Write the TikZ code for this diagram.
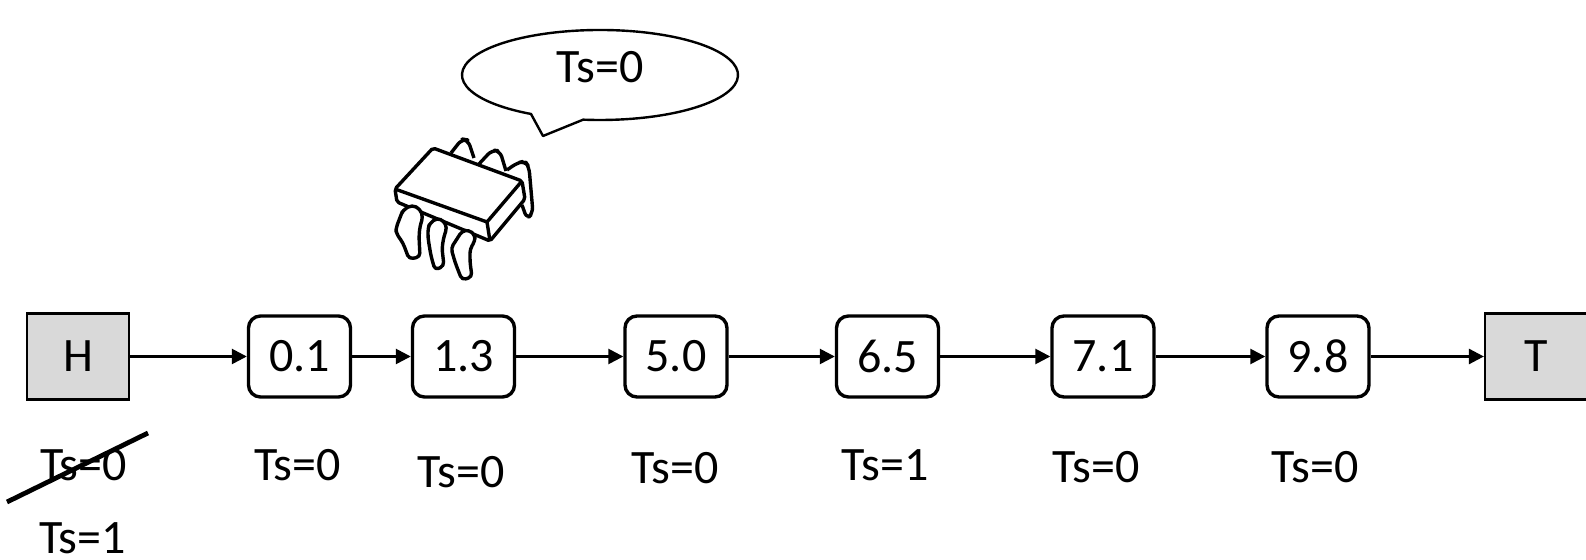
\documentclass[tikz,border=0pt]{standalone}
\usepackage{fontspec}
\setmainfont{Carlito}
\usetikzlibrary{arrows.meta,calc}
\definecolor{endgray}{HTML}{D9D9D9}
\begin{document}
\begin{tikzpicture}[x=0.5pt,y=-0.5pt,
  every node/.style={font=\fontsize{24}{28}\selectfont, inner sep=0pt},
  endbox/.style={draw, line width=1.1pt, fill=endgray, minimum width=51pt, minimum height=43pt},
  valbox/.style={draw, line width=1.7pt, rounded corners=6pt, minimum width=51pt, minimum height=40.5pt},
  link/.style={line width=1.3pt, -{Triangle[length=7.5pt,width=7.5pt]}},
  chipline/.style={draw, fill=white, line width=1.7pt, line join=round, rounded corners=2pt},
]
\useasboundingbox (0,0) rectangle (1586,560);

% list nodes
\node[endbox] (H) at (78,356.5) {H};
\node[valbox] (n1) at (299.5,356.5) {0.1};
\node[valbox] (n2) at (463.5,356.5) {1.3};
\node[valbox] (n3) at (676,356.5) {5.0};
\node[valbox] (n4) at (887.5,356.5) {6.5};
\node[valbox] (n5) at (1103,356.5) {7.1};
\node[valbox] (n6) at (1318,356.5) {9.8};
\node[endbox] (T) at (1536,356.5) {T};

% links
\draw[link] (H) -- (n1);
\draw[link] (n1) -- (n2);
\draw[link] (n2) -- (n3);
\draw[link] (n3) -- (n4);
\draw[link] (n4) -- (n5);
\draw[link] (n5) -- (n6);
\draw[link] (n6) -- (T);

% timestamps
\node (tH) at (83.5,465) {Ts=0};
\node (tHnew) at (82.5,538) {Ts=1};
\node (t1) at (297.5,465) {Ts=0};
\node (t2) at (461,472) {Ts=0};
\node (t3) at (675,468) {Ts=0};
\node (t4) at (885,465) {Ts=1};
\node (t5) at (1096,467) {Ts=0};
\node (t6) at (1315,467) {Ts=0};

% strike-through of the old head timestamp
\coordinate (s1) at (7,502);
\coordinate (s2) at (148,433);
\draw[line width=2.4pt] (s1) -- (s2);

% speech bubble
\coordinate (bub) at (600,75);
\coordinate (tip) at (543,136);
\draw[line width=1.2pt, line join=round]
  ($(bub)+(120:138 and 45)$) arc[start angle=120, end angle=457, x radius=138, y radius=45]
  -- (tip) -- cycle;
\node (bubtext) at (600,67.5) {Ts=0};

% chip: pins behind the body
\draw[chipline, rounded corners=3pt] (451,153) -- (462,139) -- (468,140) -- (474,158);
\draw[chipline, rounded corners=3pt] (479,164) -- (492,150) -- (500,151) -- (506,171);
\draw[chipline, rounded corners=3pt] (507,170) -- (517,163) -- (525,161) -- (529,167)
  -- (533,213) -- (527,219) -- (522,205);

% chip: body
\coordinate (cA) at (395,189);
\coordinate (cB) at (433,148);
\coordinate (cC) at (522,181);
\coordinate (cD) at (487,222);
\coordinate (cA2) at (397,202);
\coordinate (cC2) at (525,199);
\coordinate (cD2) at (490,241);
\draw[chipline, rounded corners=1pt] (cA) -- (cB) -- (cC) -- (cC2) -- (cD2) -- (cA2) -- cycle;
\draw[line width=1.7pt, line join=round] (cA) -- (cD) -- (cC);
\draw[line width=1.7pt] (cD) -- (cD2);

% chip: front pins
\draw[chipline] (403,210) -- (412,205) -- (420,209) -- (423,217) -- (420,226) -- (419,236)
  -- (420,257) -- (409,259) -- (403,243) -- (396,233) -- (396,228) -- (401,215) -- cycle;
\draw[chipline] (430,223) -- (437,218) -- (444,221) -- (447,228) -- (444,236) -- (442,248)
  -- (444,266) -- (435,270) -- (431,256) -- (428,238) -- (428,228) -- cycle;
\draw[chipline] (455,242) -- (462,231) -- (469,230) -- (475,235) -- (475,241) -- (470,249)
  -- (470,262) -- (472,277) -- (462,280) -- (458,270) -- (455,262) -- (451,248) -- cycle;
\end{tikzpicture}
\end{document}
